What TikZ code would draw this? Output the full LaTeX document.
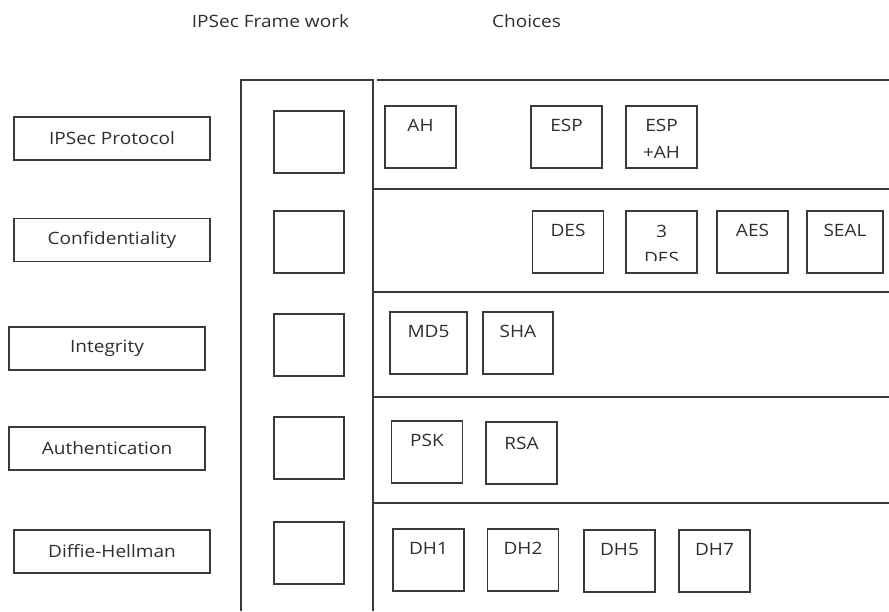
\documentclass[tikz,border=0pt]{standalone}
\usepackage{fontspec}
\setmainfont{Open Sans}[FakeStretch=1.12]
\usepackage{tikz}
\usetikzlibrary{positioning}
\definecolor{lineg}{HTML}{3A3A3A}
\definecolor{textg}{HTML}{2E2E2E}
\newcommand{\ipfont}{\fontsize{17}{27}\selectfont}

\begin{document}
\begin{tikzpicture}[
  x=1pt, y=-1pt,
  font=\ipfont,
  line width=1.4pt,
  lbl/.style={draw=lineg, text=textg, minimum width=196pt, minimum height=43pt, inner sep=0pt},
  slot/.style={draw=lineg, minimum width=70pt, minimum height=62pt, inner sep=0pt},
  choice/.style={draw=lineg, minimum width=71pt, minimum height=62pt, inner sep=0pt},
  ctxt/.style={text=textg, anchor=base, align=center, inner sep=0pt},
  ttl/.style={text=textg, anchor=base, inner sep=0pt},
]
  \useasboundingbox (0,0) rectangle (889,611);
  % Column titles
  \node[ttl] (tframe) at (270.5,27) {IPSec Frame work};
  \node[ttl] (tchoice) at (526.5,27) {Choices};
  % Framework column and choice rows
  \draw[lineg] (241,611) |- (373,80) -- (373,611);
  \draw[lineg] (377,80) -- (889,80);
  \foreach \y in {189,292,397,503}
    \draw[lineg] (373,\y) -- (889,\y);
  % Left labels
  \node[lbl] (proto) at (112,138.5) {IPSec Protocol};
  \node[lbl] (conf) at (112,240) {Confidentiality};
  \node[lbl] (integ) at (107,348.5) {Integrity};
  \node[lbl] (auth) at (107,448.5) {Authentication};
  \node[lbl] (dh) at (112,551.5) {Diffie-Hellman};
  % Empty framework slots
  \foreach \y/\n in {142/s1,242/s2,345/s3,448/s4,553/s5}
    \node[slot] (\n) at (309,\y) {};
  % Row 1: protocol
  \node[choice] (ah) at (420.5,137) {};
  \node[choice] (esp) at (566.5,137) {};
  \node[choice] (espah) at (661.5,137) {};
  \node[ctxt] (ah-t) at ([yshift=-26pt]ah.north) {AH};
  \node[ctxt] (esp-t) at ([yshift=-26pt]esp.north) {ESP};
  \node[ctxt] (espah-t) at ([yshift=-53pt]espah.north) {ESP\\+AH};
  % Row 2: confidentiality
  \node[choice] (des) at (568,242) {};
  \node[choice] (tdes) at (661.5,242) {};
  \node[choice] (aes) at (752.5,242) {};
  \node[choice, minimum width=76pt] (seal) at (845,242) {};
  \node[ctxt] (des-t) at ([yshift=-26pt]des.north) {DES};
  \begin{scope}
    \clip (tdes.north west) rectangle ([yshift=13pt]tdes.south east);
    \node[ctxt] (tdes-t) at ([yshift=-54pt]tdes.north) {3\\DES};
  \end{scope}
  \node[ctxt] (aes-t) at ([yshift=-26pt]aes.north) {AES};
  \node[ctxt] (seal-t) at ([yshift=-26pt]seal.north) {SEAL};
  % Row 3: integrity
  \node[choice, minimum width=77pt] (md5) at (428.5,343) {};
  \node[choice, minimum width=70pt] (sha) at (518,343) {};
  \node[ctxt] (md5-t) at ([yshift=-26pt]md5.north) {MD5};
  \node[ctxt] (sha-t) at ([yshift=-26pt]sha.north) {SHA};
  % Row 4: authentication
  \node[choice] (psk) at (427,452) {};
  \node[choice] (rsa) at (521.5,453) {};
  \node[ctxt] (psk-t) at ([yshift=-26pt]psk.north) {PSK};
  \node[ctxt] (rsa-t) at ([yshift=-28pt]rsa.north) {RSA};
  % Row 5: Diffie-Hellman groups
  \node[choice] (dh1) at (428.5,560) {};
  \node[choice] (dh2) at (523,560) {};
  \node[choice] (dh5) at (619.5,561) {};
  \node[choice] (dh7) at (714.5,561) {};
  \foreach \n/\t in {dh1/DH1,dh2/DH2,dh5/DH5,dh7/DH7}
    \node[ctxt] (\n-t) at ([yshift=-26pt]\n.north) {\t};
\end{tikzpicture}
\end{document}
